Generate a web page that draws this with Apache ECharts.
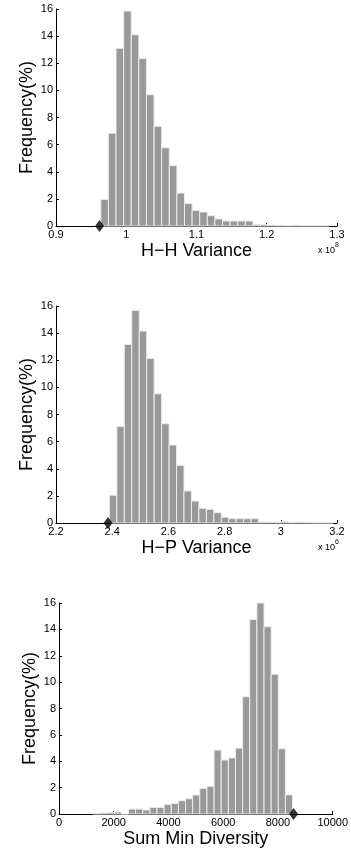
<!DOCTYPE html>
<html>
<head>
<meta charset="utf-8">
<script src="https://cdn.jsdelivr.net/npm/echarts@6/dist/echarts.min.js"></script>
<style>
  html, body { margin: 0; padding: 0; background: #fff; }
  #chart { width: 351px; height: 849px; }
</style>
</head>
<body>
<div id="chart"></div>
<script>
// H-H variance histogram (x in units of 1e8)
const hhStart = 0.9638
const hhWidth = 0.01083
const hhFreq = [1.95, 6.83, 13.1, 15.85, 14.1, 12.35, 9.68, 7.35, 5.77, 4.45,
  2.43, 1.67, 1.15, 1.03, 0.76, 0.52, 0.37, 0.37, 0.37, 0.37,
  0.1, 0.12, 0.07, 0.05, 0.03, 0.05, 0.03, 0.03, 0.03, 0.03]
const hhMarker = [0.962, 0]

// H-P variance histogram (x in units of 1e6)
const hpStart = 2.39
const hpWidth = 0.02655
const hpFreq = [2.05, 7.12, 13.17, 15.68, 14.15, 12.14, 9.53, 7.32, 5.75, 4.25,
  2.36, 1.62, 1.08, 1.01, 0.76, 0.42, 0.32, 0.32, 0.32, 0.32,
  0.07, 0.07, 0.05, 0.1, 0.03, 0.07, 0.03, 0.02, 0.02, 0.02]
const hpMarker = [2.385, 0]

// Sum min diversity histogram
const sdStart = 1234
const sdWidth = 260.7
const sdFreq = [0.05, 0.08, 0.12, 0.15, 0, 0.38, 0.38, 0.3, 0.5, 0.5,
  0.73, 0.8, 1.01, 1.16, 1.44, 1.94, 2.1, 4.85, 4.1, 4.25,
  5.0, 8.9, 14.75, 16.0, 14.2, 10.6, 4.95, 1.45]
const sdMarker = [8570, 0]

const xNames = ['H\u2212H Variance', 'H\u2212P Variance', 'Sum Min Diversity']
const xRanges = [[0.9, 1.3, 0.1], [2.2, 3.2, 0.2], [0, 10000, 2000]]
const yRange = [0, 16, 2]
const yName = 'Frequency(%)'

const font = '"Liberation Sans", Arial, Helvetica, sans-serif'

function bins(start, width, freq) {
  return freq.map((f, i) => [start + i * width, start + (i + 1) * width, f])
}

function renderBar(params, api) {
  const p0 = api.coord([api.value(0), api.value(2)])
  const p1 = api.coord([api.value(1), 0])
  return {
    type: 'rect',
    shape: { x: p0[0], y: p0[1], width: p1[0] - p0[0], height: p1[1] - p0[1] },
    style: { fill: '#999999', stroke: '#ececec', lineWidth: 1 }
  }
}

// plain numbers, no thousands separator
function fmt(v) {
  return String(Math.round(v * 1000) / 1000)
}

const grids = [
  { left: 56, top: 9, width: 281, height: 217 },
  { left: 56, top: 306, width: 281, height: 217 },
  { left: 59, top: 603, width: 275, height: 211 }
]

const chart = echarts.init(document.getElementById('chart'))

const xAxis = xRanges.map((r, i) => ({
  type: 'value',
  gridIndex: i,
  min: r[0],
  max: r[1],
  interval: r[2],
  name: xNames[i],
  nameLocation: 'middle',
  nameGap: 16,
  nameMoveOverlap: false,
  nameTextStyle: { fontSize: 18, color: '#000', fontFamily: font },
  axisLine: { show: true, lineStyle: { color: '#000', width: 1 } },
  axisTick: { show: true, inside: true, length: 3, lineStyle: { color: '#000' } },
  axisLabel: { color: '#000', fontSize: 11, margin: 3, fontFamily: font, formatter: fmt },
  splitLine: { show: false }
}))

const yAxis = grids.map((g, i) => ({
  type: 'value',
  gridIndex: i,
  min: yRange[0],
  max: yRange[1],
  interval: yRange[2],
  name: yName,
  nameLocation: 'middle',
  nameGap: 20,
  nameMoveOverlap: false,
  nameTextStyle: { fontSize: 18, color: '#000', fontFamily: font },
  axisLine: { show: true, lineStyle: { color: '#000', width: 1 } },
  axisTick: { show: true, inside: true, length: 3, lineStyle: { color: '#000' } },
  axisLabel: { color: '#000', fontSize: 11, margin: 3, fontFamily: font },
  splitLine: { show: false }
}))

const hists = [
  bins(hhStart, hhWidth, hhFreq),
  bins(hpStart, hpWidth, hpFreq),
  bins(sdStart, sdWidth, sdFreq)
]
const markers = [hhMarker, hpMarker, sdMarker]

const series = []
hists.forEach((d, i) => {
  series.push({
    type: 'custom',
    xAxisIndex: i,
    yAxisIndex: i,
    renderItem: renderBar,
    encode: { x: [0, 1], y: 2 },
    data: d,
    animation: false
  })
  series.push({
    type: 'scatter',
    xAxisIndex: i,
    yAxisIndex: i,
    symbol: 'diamond',
    symbolSize: [9, 12],
    itemStyle: { color: '#000' },
    clip: false,
    z: 5,
    data: [markers[i]],
    animation: false
  })
})

const expText = (y, e) => ({
  type: 'text',
  x: 318,
  y: y,
  style: {
    text: '{a|x 10}{b|' + e + '}',
    rich: {
      a: { fontSize: 9, fill: '#000', fontFamily: font, verticalAlign: 'bottom' },
      b: { fontSize: 7, fill: '#000', fontFamily: font, verticalAlign: 'top', padding: [0, 0, 6, 0] }
    }
  }
})

chart.setOption({
  backgroundColor: '#fff',
  animation: false,
  grid: grids,
  xAxis: xAxis,
  yAxis: yAxis,
  series: series,
  graphic: [expText(242, 8), expText(539, 6)]
})
</script>
</body>
</html>
